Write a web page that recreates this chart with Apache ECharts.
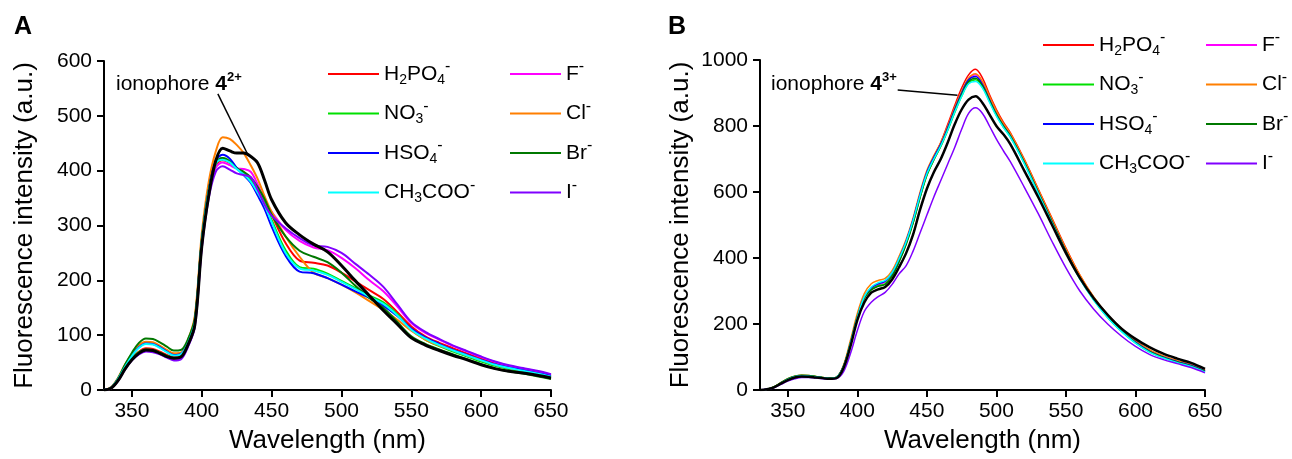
<!DOCTYPE html>
<html>
<head>
<meta charset="utf-8">
<script src="https://cdn.jsdelivr.net/npm/echarts@6/dist/echarts.min.js"></script>
<style>
  html, body { margin: 0; padding: 0; background: #fff; }
  #chart { width: 1292px; height: 459px; }
</style>
</head>
<body>
<div id="chart"></div>
<script>
// wavelengths (nm)
const wlA = [330,335,340,345,350,355,360,365,370,375,380,385,390,395,400,405,410,415,420,425,430,435,440,445,450,
  460,470,480,490,500,510,520,530,540,550,560,570,580,590,600,610,620,630,640,650];
const wlB = [330,335,340,345,350,355,360,365,370,375,380,385,390,395,400,405,410,415,420,425,430,435,440,445,450,
  455,460,465,470,475,480,485,490,495,500,505,510,520,530,540,550,560,570,580,590,600,610,620,630,640,650];

// panel A: ionophore 4(2+) + anions
const aIono = [0,3,17,38,55,67,73,72,67,61,58,60,82,118,262,355,418,441,436,432,432,426,414,382,347,
  305,283,266,252,227,199,172,145,120,95,82,72,63,55,46,39,34,31,27,22];
const aH2PO4 = [0,3,18,40,58,70,76,75,70,64,60,62,84,122,268,362,410,419,414,405,397,385,368,348,320,
  268,236,232,227,214,198,182,166,142,116,98,86,76,66,57,49,43,37,32,26];
const aF = [0,3,17,38,55,66,71,70,66,60,56,58,80,117,262,355,405,415,410,404,403,398,375,345,325,
  292,272,260,255,241,222,200,180,152,122,104,92,80,70,60,51,44,39,34,28];
const aNO3 = [0,3,18,40,57,69,74,73,68,62,58,60,82,120,266,360,412,423,418,405,395,383,362,340,310,
  255,224,221,212,199,186,172,160,138,110,92,80,70,61,52,44,38,33,28,22];
const aCl = [0,5,22,46,66,82,88,87,81,73,67,68,90,135,285,380,435,461,458,447,432,410,385,353,325,
  280,243,214,204,192,178,162,146,128,108,92,81,72,63,54,46,40,35,30,25];
const aHSO4 = [0,4,20,43,63,78,85,84,78,70,64,66,86,125,272,365,418,429,422,405,392,378,355,330,298,
  245,216,213,204,192,180,168,154,135,112,96,84,73,64,55,47,41,36,31,26];
const aBr = [0,4,21,46,68,86,94,93,87,79,72,73,92,130,275,365,415,423,416,404,398,388,370,348,320,
  280,254,243,233,214,190,168,150,124,98,84,74,65,56,47,39,34,30,25,20];
const aCH3COO = [0,4,20,42,62,77,84,83,77,69,63,65,85,124,270,362,413,420,415,403,393,380,360,337,306,
  250,222,218,210,197,184,170,157,136,110,94,82,72,63,54,46,40,35,30,24];
const aI = [0,3,16,37,54,65,70,69,65,59,54,56,78,115,258,350,398,408,402,395,392,388,365,338,318,
  295,277,264,261,250,230,210,188,156,124,106,93,81,71,61,52,45,40,35,29];

// panel B: ionophore 4(3+) + anions
const bIono = [0,2,8,19,30,38,41,40,38,36,34,36,66,132,212,265,295,305,312,335,372,414,470,545,610,660,700,750,805,850,880,890,870,835,800,775,745,
  665,585,500,415,340,278,228,186,155,130,110,95,82,64];
const bH2PO4 = [0,2,8,20,32,40,43,42,40,37,35,38,70,138,218,280,308,320,328,352,395,447,512,590,660,707,750,805,862,915,955,972,945,895,850,812,780,
  700,610,520,430,348,280,226,184,148,120,102,88,76,59];
const bF = [0,2,8,20,32,40,43,42,40,37,35,38,70,140,220,280,308,320,328,352,396,448,512,590,658,703,745,795,850,900,942,955,930,885,840,803,772,
  692,602,512,422,342,277,224,182,146,119,101,87,75,58];
const bNO3 = [0,2,9,21,33,41,44,43,41,38,36,39,72,142,222,280,305,316,322,347,390,442,505,582,650,697,738,787,840,890,930,940,918,875,832,797,767,
  688,598,508,418,338,273,220,178,143,116,98,84,72,55];
const bCl = [0,2,9,22,34,42,45,44,41,38,36,39,75,150,232,292,322,332,338,362,405,455,520,598,665,710,750,800,855,905,945,958,935,890,845,808,778,
  698,608,518,428,348,282,228,186,150,122,103,89,77,60];
const bHSO4 = [0,2,8,20,32,40,43,42,40,37,35,38,70,140,220,282,310,322,330,355,398,450,515,592,660,705,745,795,850,900,940,950,925,880,835,800,770,
  690,600,510,420,340,275,222,180,145,118,100,86,74,57];
const bBr = [0,2,9,22,34,42,45,44,41,38,36,39,72,142,222,278,303,314,320,345,388,440,505,582,652,698,740,790,845,895,935,945,922,878,835,800,770,
  690,600,510,420,340,275,222,180,144,117,99,85,73,56];
const bCH3COO = [0,2,8,20,32,40,43,42,40,37,35,38,70,140,220,283,312,325,332,356,398,448,512,588,655,700,740,788,842,890,928,935,915,872,830,796,766,
  686,596,506,416,336,272,219,177,142,115,97,83,71,54];
const bI = [0,2,7,17,27,34,38,38,36,34,33,35,55,110,180,238,266,283,296,320,352,376,420,475,530,585,635,685,735,790,838,855,838,800,760,725,692,
  615,535,450,370,300,245,200,163,132,108,92,80,68,52];

const anionNames = ['H2PO4-', 'F-', 'NO3-', 'Cl-', 'HSO4-', 'Br-', 'CH3COO-', 'I-'];
const anionColors = ['#ff0000', '#ff00ff', '#00e000', '#ff7f00', '#0000ff', '#007800', '#00ffff', '#8000ff'];
const anionsA = [aH2PO4, aF, aNO3, aCl, aHSO4, aBr, aCH3COO, aI];
const anionsB = [bH2PO4, bF, bNO3, bCl, bHSO4, bBr, bCH3COO, bI];

// arrows: [from, to] in data coords
const arrowA = [[433, 429], [411.5, 540]];
const arrowB = [[472, 893], [429, 909]];

const xTicks = [350, 400, 450, 500, 550, 600, 650];
const FONT = '"Liberation Sans", Arial, sans-serif';

const legendLabel = {
  'H2PO4-': 'H{sub|2}PO{sub|4}{sup|-}',
  'NO3-': 'NO{sub|3}{sup|-}',
  'HSO4-': 'HSO{sub|4}{sup|-}',
  'CH3COO-': 'CH{sub|3}COO{sup|-}',
  'F-': 'F{sup|-}',
  'Cl-': 'Cl{sup|-}',
  'Br-': 'Br{sup|-}',
  'I-': 'I{sup|-}'
};

const chart = echarts.init(document.getElementById('chart'));

const xAxisOf = (gi) => ({
  type: 'value', gridIndex: gi, min: 330, max: 650,
  name: 'Wavelength (nm)', nameLocation: 'middle', nameGap: 38,
  nameTextStyle: { fontFamily: FONT, fontSize: 26, color: '#000' },
  axisLine: { onZero: false, lineStyle: { color: '#000', width: 2 } },
  axisTick: { customValues: xTicks, length: 7, lineStyle: { color: '#000', width: 2 } },
  axisLabel: { customValues: xTicks, margin: 11, fontFamily: FONT, fontSize: 21, color: '#000',
    formatter: (v) => String(v) },
  splitLine: { show: false }
});

const yAxisOf = (gi, max, step) => ({
  type: 'value', gridIndex: gi, min: 0, max: max, interval: step,
  name: 'Fluorescence intensity (a.u.)', nameLocation: 'middle', nameGap: 66,
  nameTextStyle: { fontFamily: FONT, fontSize: 26, color: '#000' },
  axisLine: { show: true, lineStyle: { color: '#000', width: 2 } },
  axisTick: { show: true, length: 7, lineStyle: { color: '#000', width: 2 } },
  axisLabel: { margin: 12, fontFamily: FONT, fontSize: 21, color: '#000',
    formatter: (v) => String(v) },
  splitLine: { show: false }
});

const lineSeries = (name, wl, vals, color, width, gi) => ({
  name: name, type: 'line', xAxisIndex: gi, yAxisIndex: gi,
  data: wl.map((w, i) => [w, vals[i]]),
  smooth: 0.35, showSymbol: false, symbol: 'none',
  lineStyle: { color: color, width: width },
  itemStyle: { color: color },
  emphasis: { disabled: true }
});

const arrowMark = (arrow) => ({
  silent: true, symbol: ['none', 'arrow'], symbolSize: [0, 12],
  lineStyle: { color: '#000', width: 1.5, type: 'solid' },
  itemStyle: { color: '#000' },
  label: { show: false },
  emphasis: { disabled: true },
  data: [[{ coord: arrow[0] }, { coord: arrow[1] }]]
});

const series = [];
anionNames.forEach((n, i) => series.push(lineSeries(n, wlA, anionsA[i], anionColors[i], 2, 0)));
const ionoA = lineSeries('ionophore A', wlA, aIono, '#000', 3, 0);
ionoA.markLine = arrowMark(arrowA);
series.push(ionoA);
anionNames.forEach((n, i) => series.push(lineSeries(n, wlB, anionsB[i], anionColors[i], 1.5, 1)));
const ionoB = lineSeries('ionophore B', wlB, bIono, '#000', 2.5, 1);
ionoB.markLine = arrowMark(arrowB);
series.push(ionoB);

const legendOf = (names, left, top) => ({
  orient: 'vertical', left: left, top: top, padding: 0,
  itemWidth: 51, itemHeight: 2, itemGap: 9.5, icon: 'rect',
  selectedMode: false,
  data: names,
  formatter: (n) => legendLabel[n],
  textStyle: {
    fontFamily: FONT, fontSize: 21, color: '#000', lineHeight: 28,
    rich: {
      sub: { fontFamily: FONT, fontSize: 14, color: '#000', lineHeight: 16, padding: [12, 0, 0, 0] },
      sup: { fontFamily: FONT, fontSize: 16, color: '#000', lineHeight: 16, padding: [0, 0, 14, 0] }
    }
  }
});

const noteText = (left, top, charge) => ({
  type: 'text', left: left, top: top,
  style: {
    text: 'ionophore {b|4}{s|' + charge + '}',
    fontFamily: FONT, fontSize: 21, fill: '#000', lineHeight: 28,
    rich: {
      b: { fontFamily: FONT, fontSize: 21, fontWeight: 'bold', fill: '#000', lineHeight: 28 },
      s: { fontFamily: FONT, fontSize: 13, fontWeight: 'bold', fill: '#000', lineHeight: 14, padding: [0, 0, 14, 0] }
    }
  }
});

chart.setOption({
  animation: false,
  backgroundColor: '#fff',
  grid: [
    { left: 104, top: 61, width: 447, height: 330 },
    { left: 760, top: 60, width: 445, height: 331 }
  ],
  xAxis: [xAxisOf(0), xAxisOf(1)],
  yAxis: [yAxisOf(0, 600, 100), yAxisOf(1, 1000, 200)],
  legend: [
    legendOf(['H2PO4-', 'NO3-', 'HSO4-', 'CH3COO-'], 328, 59),
    legendOf(['F-', 'Cl-', 'Br-', 'I-'], 510, 59),
    legendOf(['H2PO4-', 'NO3-', 'HSO4-', 'CH3COO-'], 1043, 30),
    legendOf(['F-', 'Cl-', 'Br-', 'I-'], 1206, 30)
  ],
  graphic: [
    { type: 'text', left: 14, top: 15, style: { text: 'A', fontFamily: FONT, fontSize: 25, fontWeight: 'bold', fill: '#000' } },
    { type: 'text', left: 668, top: 15, style: { text: 'B', fontFamily: FONT, fontSize: 25, fontWeight: 'bold', fill: '#000' } },
    noteText(116, 70, '2+'),
    noteText(771, 70, '3+')
  ],
  series: series
});
</script>
</body>
</html>
